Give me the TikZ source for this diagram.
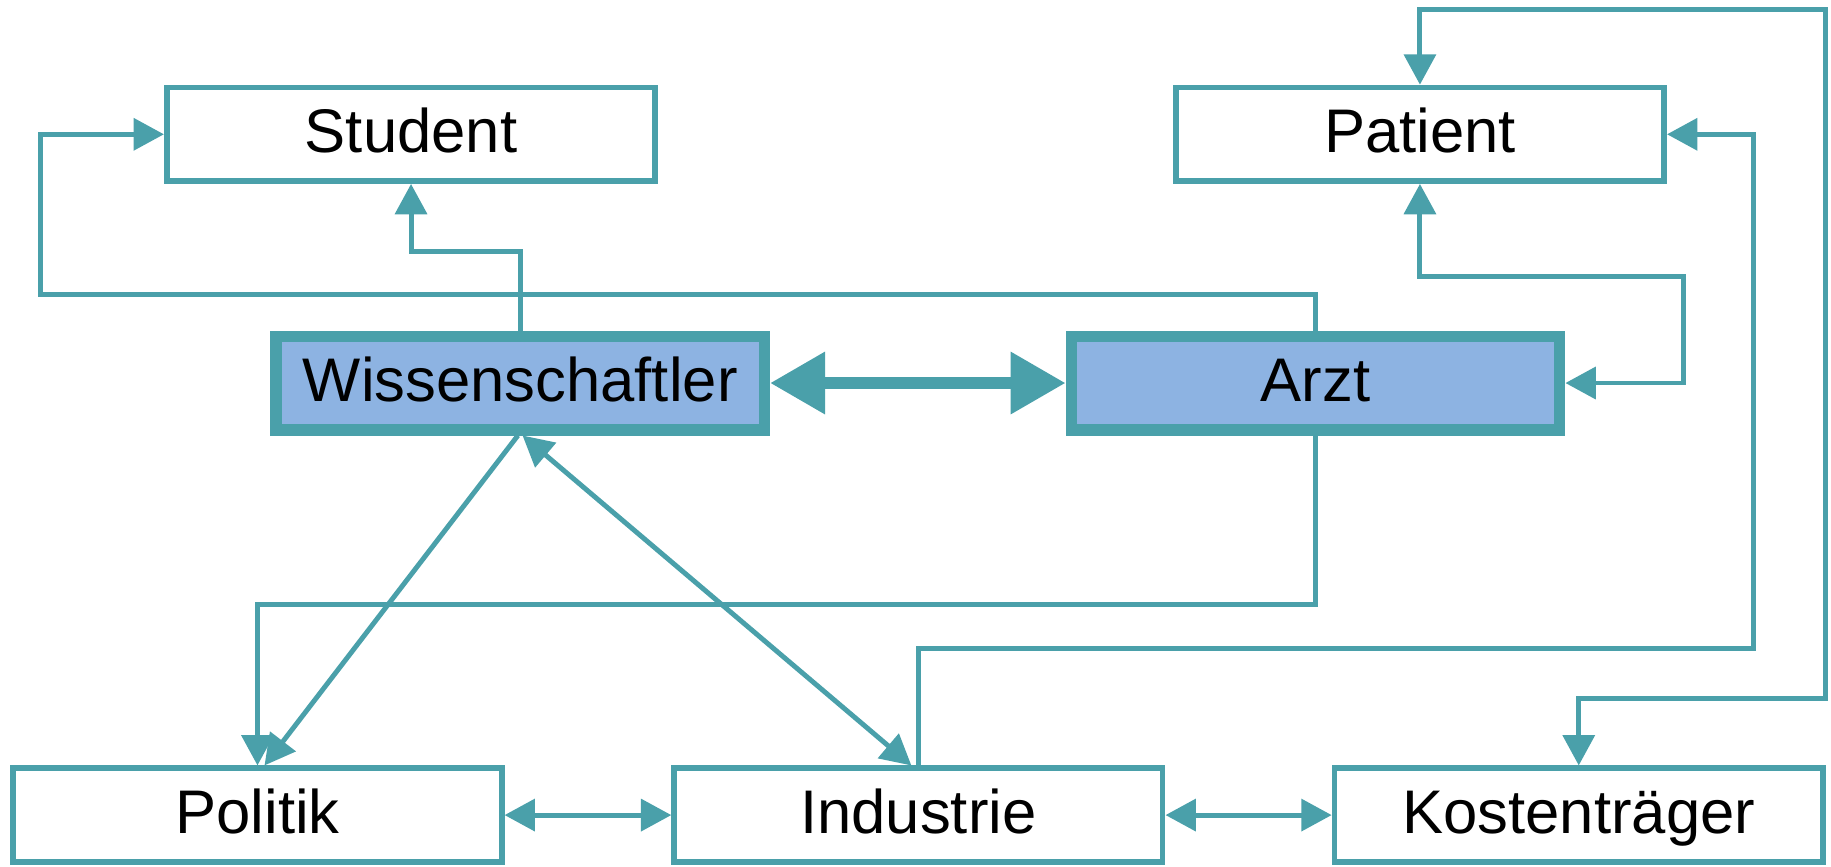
\documentclass[tikz,border=0pt]{standalone}
\usepackage{fontspec}
\setmainfont{Liberation Sans}
\usetikzlibrary{arrows.meta,calc,positioning}
\definecolor{linkteal}{RGB}{74,160,170}
\definecolor{keyblue}{RGB}{141,179,226}

\begin{document}
\begin{tikzpicture}[
    x=0.01cm, y=-0.01cm, font=\fontsize{15}{18}\selectfont,
    box/.style={draw=linkteal, line width=1.4pt, fill=white,
      minimum width=4.18cm, minimum height=0.80cm, inner sep=0pt,
      text height=0.9em, text depth=0pt},
    keybox/.style={box, line width=2.8pt, fill=keyblue},
    smalltip/.tip={Triangle[length=0.26cm,width=0.27cm]},
    bigtip/.tip={Triangle[length=0.47cm,width=0.51cm]},
    link/.style={draw=linkteal, line width=1.2pt, >=smalltip},
    mainlink/.style={draw=linkteal, line width=2.8pt, bigtip-bigtip}]

    \useasboundingbox (0,0) rectangle (1568,742);

    % vertices

    \node[box] (stud) at (352,115) {Student};
    \node[box] (pat) at (1216,115) {Patient};

    \node[keybox] (wiss) at (445.5,328) {Wissenschaftler};
    \node[keybox] (arzt) at (1126.5,328) {Arzt};

    \node[box] (pol) at (220.5,698) {Politik};
    \node[box] (ind) at (786.5,698) {Industrie};
    \node[box] (kost) at (1352,698) {Kostenträger};

    \coordinate (lft) at (35,252);
    \coordinate (rgt) at (1442,237);
    \coordinate (topr) at (1563,8);
    \coordinate (botr) at (1563,598);
    \coordinate (midr) at (1502,555);

    % edges

    \draw[mainlink] (wiss) -- (arzt);

    \draw[link, ->] (wiss.north) -- ++(0,-68) -| (stud.south);
    \draw[link, ->] (arzt.north) |- (lft) |- (stud.west);

    \draw[link, <->] (pat.south) |- (rgt) |- (arzt.east);
    \draw[link, <->] (pat.north) |- (topr) -- (botr) -| (kost.north);
    \draw[link, ->] (ind.north) |- (midr) |- (pat.east);

    \draw[link, ->] (arzt.south) -- ++(0,145) -| (pol.north);
    \draw[link, ->] ([xshift=-0.02cm]wiss.south) -- ([xshift=0.06cm]pol.north);
    \draw[link, <->] ([xshift=0.02cm]wiss.south) -- ([xshift=-0.06cm]ind.north);

    \draw[link, <->] (pol) -- (ind);
    \draw[link, <->] (ind) -- (kost);
\end{tikzpicture}
\end{document}
